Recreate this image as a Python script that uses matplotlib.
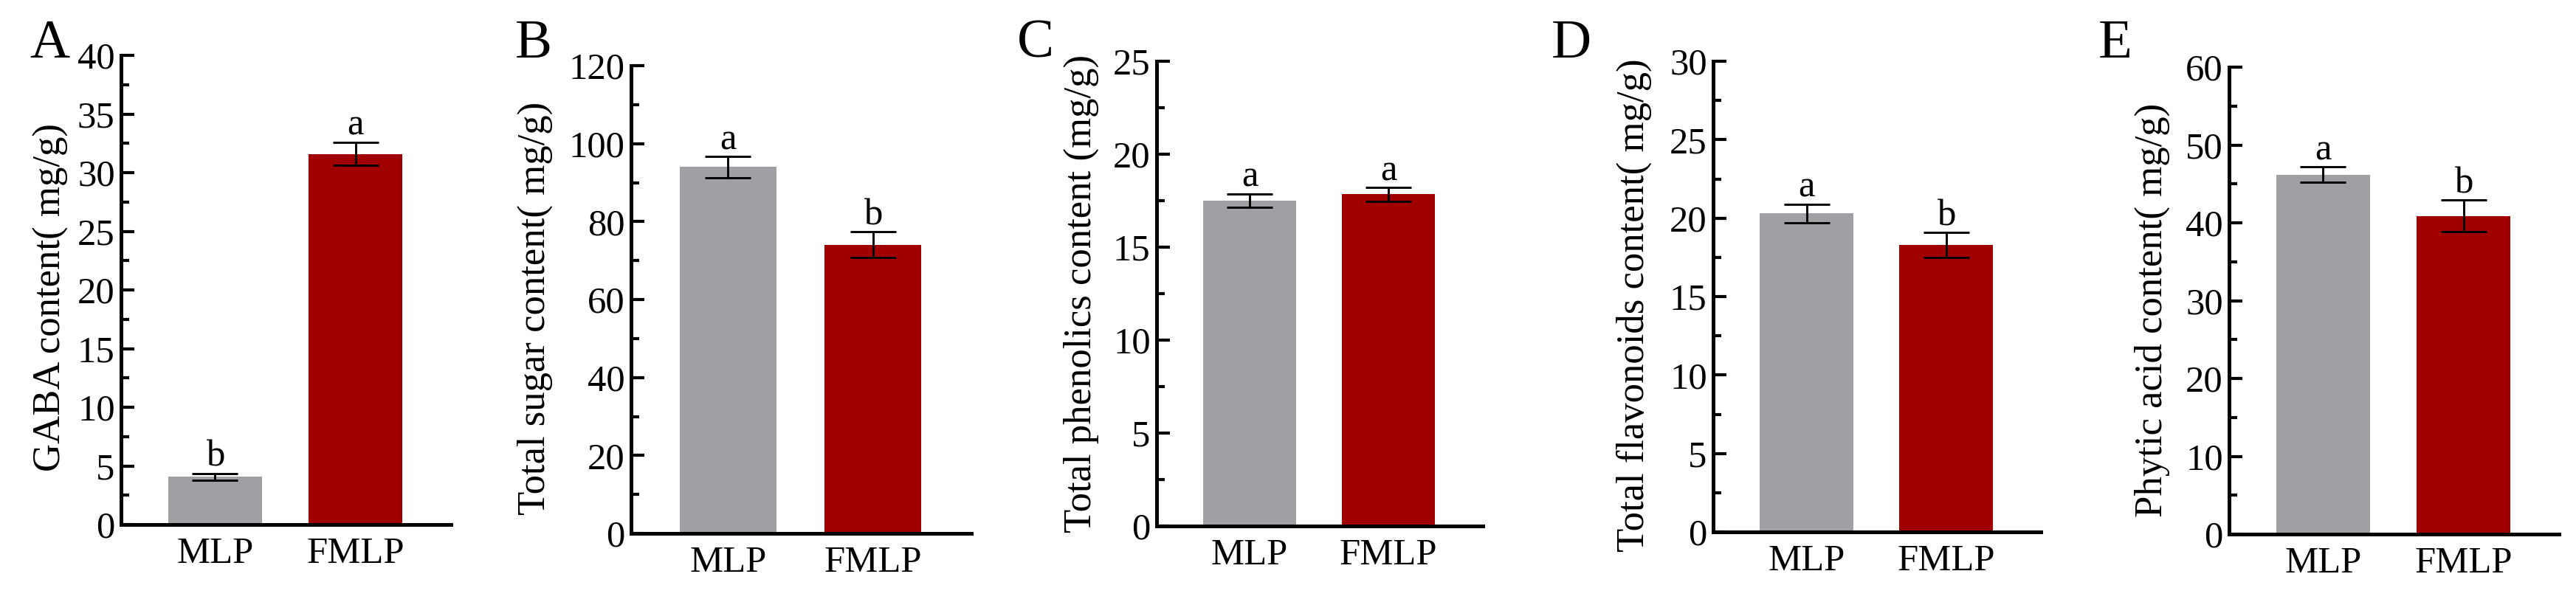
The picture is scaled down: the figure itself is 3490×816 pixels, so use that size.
import matplotlib
matplotlib.use("Agg")
import matplotlib.pyplot as plt
from matplotlib.ticker import MultipleLocator

plt.rcParams['font.family'] = ['Liberation Serif', 'DejaVu Serif']

groups = ["MLP", "FMLP"]
gaba = [4.06, 31.6]
gaba_err = [0.3, 1.0]
sugar = [94.0, 74.1]
sugar_err = [2.7, 3.3]
phenolics = [17.5, 17.85]
phenolics_err = [0.37, 0.37]
flavonoids = [20.3, 18.3]
flavonoids_err = [0.6, 0.8]
phytic = [46.2, 40.9]
phytic_err = [1.0, 2.0]

sig_gaba = ["b", "a"]
sig_sugar = ["a", "b"]
sig_phenolics = ["a", "a"]
sig_flavonoids = ["a", "b"]
sig_phytic = ["a", "b"]

panels = [
    dict(letter="A", vals=gaba, err=gaba_err, sig=sig_gaba, ylabel="GABA content( mg/g)",
         ymax=40, major=5, minor=2.5, px=(164, 611, 75, 711), lx=40, ylx=69, yly=403),
    dict(letter="B", vals=sugar, err=sugar_err, sig=sig_sugar, ylabel="Total sugar content( mg/g)",
         ymax=120, major=20, minor=10, px=(855, 1316, 89, 723), lx=698, ylx=725, yly=418),
    dict(letter="C", vals=phenolics, err=phenolics_err, sig=sig_phenolics, ylabel="Total phenolics content (mg/g)",
         ymax=25, major=5, minor=2.5, px=(1567, 2009, 83, 713), lx=1378, ylx=1465, yly=398),
    dict(letter="D", vals=flavonoids, err=flavonoids_err, sig=sig_flavonoids, ylabel="Total flavonoids content( mg/g)",
         ymax=30, major=5, minor=2.5, px=(2321, 2765, 83, 721), lx=2102, ylx=2214, yly=414),
    dict(letter="E", vals=phytic, err=phytic_err, sig=sig_phytic, ylabel="Phytic acid content( mg/g)",
         ymax=60, major=10, minor=5, px=(3020, 3467, 91, 724), lx=2843, ylx=2916, yly=420),
]

W, H = 3491, 816
fig = plt.figure(figsize=(W / 100, H / 100), dpi=100)
colors = ["#A0A0A4", "#A00000"]
fs = 36.5
lfs = 38

for p in panels:
    l, r, t, b = p["px"]
    ax = fig.add_axes([l / W, 1 - b / H, (r - l) / W, (b - t) / H])
    x = [0, 1]
    ax.bar(x, p["vals"], width=0.67, color=colors, zorder=2)
    ax.errorbar(x, p["vals"], yerr=p["err"], fmt="none", ecolor="black",
                elinewidth=2.1, capsize=22, capthick=2.1, zorder=3)
    for xi, v, e, s in zip(x, p["vals"], p["err"], p["sig"]):
        ax.annotate(s, xy=(xi, v + e), xytext=(0, 7), textcoords="offset points",
                    ha="center", va="baseline", fontsize=fs)
    ax.set_xlim(-0.67, 1.68)
    ax.set_ylim(0, p["ymax"])
    ax.set_xticks(x)
    ax.set_xticklabels(groups, fontsize=fs)
    ax.tick_params(axis="x", length=0, pad=12)
    ax.yaxis.set_major_locator(MultipleLocator(p["major"]))
    ax.yaxis.set_minor_locator(MultipleLocator(p["minor"]))
    ax.tick_params(axis="y", which="major", direction="in", length=13, width=3.0, labelsize=fs, pad=6)
    ax.tick_params(axis="y", which="minor", direction="in", length=8, width=3.0)
    for side in ["top", "right"]:
        ax.spines[side].set_visible(False)
    for side in ["left", "bottom"]:
        ax.spines[side].set_linewidth(3.6)
    fig.text(p["ylx"] / W, 1 - p["yly"] / H, p["ylabel"], fontsize=lfs, rotation=90,
             ha="center", va="center")
    fig.text(p["lx"] / W, 1 - 78 / H, p["letter"], fontsize=54, ha="left", va="baseline")

fig.savefig("out.png", dpi=100)
